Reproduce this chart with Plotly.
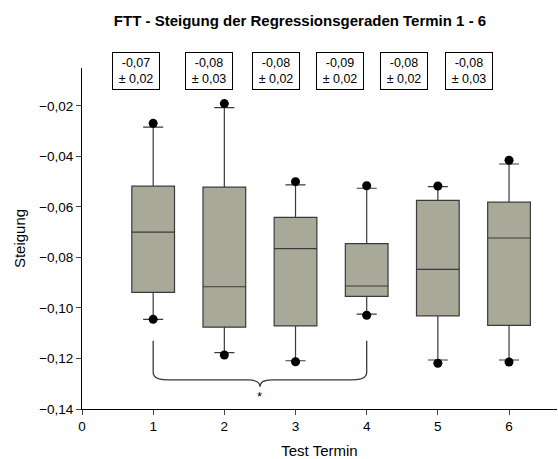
import plotly.graph_objects as go

# ---- data ----
termin = [1, 2, 3, 4, 5, 6]
q1 = [-0.0938, -0.1076, -0.1071, -0.0954, -0.1031, -0.1069]
median = [-0.0700, -0.0916, -0.0765, -0.0913, -0.0847, -0.0723]
q3 = [-0.0518, -0.0522, -0.0641, -0.0745, -0.0574, -0.0581]
lower_whisker = [-0.1045, -0.1177, -0.1209, -0.1024, -0.1206, -0.1206]
upper_whisker = [-0.0284, -0.0207, -0.0513, -0.0526, -0.0520, -0.0430]
outlier_low = [-0.1045, -0.1186, -0.1213, -0.1029, -0.1219, -0.1214]
outlier_high = [-0.0269, -0.0191, -0.0500, -0.0516, -0.0517, -0.0415]
mean_labels = ["-0,07", "-0,08", "-0,08", "-0,09", "-0,08", "-0,08"]
sd_labels = ["± 0,02", "± 0,03", "± 0,02", "± 0,02", "± 0,02", "± 0,03"]
label_x = [0.76, 1.78, 2.72, 3.62, 4.53, 5.44]
x_ticks = [0, 1, 2, 3, 4, 5, 6]
y_ticks = [-0.14, -0.12, -0.10, -0.08, -0.06, -0.04, -0.02]
sig_from, sig_to = 1, 4

FONT = "Arial, Liberation Sans, sans-serif"

fig = go.Figure()
fig.add_trace(go.Box(
    x=termin, q1=q1, median=median, q3=q3,
    lowerfence=lower_whisker, upperfence=upper_whisker,
    width=0.6, whiskerwidth=0.47, boxpoints=False,
    fillcolor="#a9a99a", line=dict(color="#3a3a3a", width=1.2),
    showlegend=False, hoverinfo="skip",
))
fig.add_trace(go.Scatter(
    x=termin + termin, y=outlier_high + outlier_low, mode="markers",
    marker=dict(color="black", size=9), showlegend=False, hoverinfo="skip",
))

# significance brace
top = -0.1130
hline = -0.1285
tip = -0.1312
mid = (sig_from + sig_to) / 2
rx, ry = 0.2, 0.003
tx = 0.17
path = (f"M {sig_from},{top} L {sig_from},{hline + ry} "
        f"Q {sig_from},{hline} {sig_from + rx},{hline} "
        f"L {mid - tx},{hline} Q {mid},{hline} {mid},{tip} "
        f"Q {mid},{hline} {mid + tx},{hline} "
        f"L {sig_to - rx},{hline} Q {sig_to},{hline} {sig_to},{hline + ry} "
        f"L {sig_to},{top}")
fig.add_shape(type="path", path=path, xref="x", yref="y",
              line=dict(color="#3a3a3a", width=1.3))
fig.add_annotation(x=mid, y=-0.1352, xref="x", yref="y", text="*",
                   showarrow=False, font=dict(family=FONT, size=13, color="black"))

for xl, m, s in zip(label_x, mean_labels, sd_labels):
    fig.add_annotation(x=xl, y=0.991, xref="x", yref="paper",
                       xanchor="center", yanchor="middle",
                       text=f"{m}<br>{s}", showarrow=False,
                       width=42, height=32, borderpad=2, borderwidth=1,
                       bordercolor="black", bgcolor="white",
                       font=dict(family=FONT, size=12.5, color="black"))

fig.update_layout(
    width=558, height=459,
    margin=dict(l=82, r=1, t=68, b=50),
    plot_bgcolor="white", paper_bgcolor="white",
    separators=",.",
    font=dict(family=FONT, size=13.5, color="black"),
    title=dict(text="<b>FTT - Steigung der Regressionsgeraden Termin 1 - 6</b>",
               x=300 / 558, xref="container", xanchor="center",
               y=1 - 21 / 459, yref="container", yanchor="middle",
               font=dict(family=FONT, size=15, color="black")),
    xaxis=dict(range=[0, 6.674], tickvals=x_ticks, ticks="outside", ticklen=5,
               showline=True, linecolor="black", linewidth=1, showgrid=False,
               zeroline=False, tickfont=dict(size=13.5), automargin=False,
               title=dict(text="Test Termin", font=dict(size=15), standoff=14)),
    yaxis=dict(range=[-0.14, -0.005], tickvals=y_ticks, tickformat=".2f",
               ticks="outside", ticklen=5, showline=True, linecolor="black",
               linewidth=1, showgrid=False, zeroline=False, automargin=False,
               tickfont=dict(size=13.5),
               title=dict(text="Steigung", font=dict(size=15), standoff=9)),
)

fig.write_html("out.html")
